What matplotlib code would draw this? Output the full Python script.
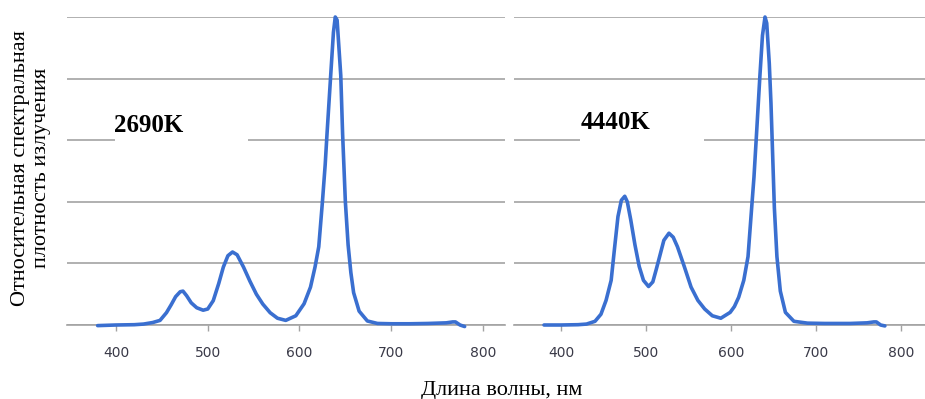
import matplotlib.pyplot as plt
from matplotlib.patches import Rectangle

# спектр 2690K (длина волны, нм / относительная плотность)
wl_2690 = [380, 400, 420, 430, 440, 448, 455, 460, 465, 470, 473, 477, 482, 488,
           495, 500, 506, 512, 517, 522, 527, 532, 539, 546, 553, 560, 568, 576,
           585, 596, 605, 612, 617, 621, 625, 628, 630, 634, 637, 639,
           641, 645, 647, 650, 653, 656, 659, 665, 674, 685, 700, 720, 740,
           760, 767, 770, 775, 780]
val_2690 = [-0.002, 0.0, 0.001, 0.003, 0.008, 0.015, 0.04, 0.065, 0.092, 0.108, 0.11,
            0.095, 0.072, 0.056, 0.048, 0.052, 0.079, 0.135, 0.188, 0.225, 0.237,
            0.228, 0.188, 0.142, 0.10, 0.068, 0.040, 0.022,
            0.015, 0.03, 0.069, 0.123, 0.189, 0.254, 0.40, 0.52, 0.62, 0.81, 0.95, 1.0,
            0.99, 0.81, 0.62, 0.40, 0.26, 0.17, 0.105, 0.045, 0.013, 0.005, 0.004,
            0.004, 0.005, 0.007, 0.01, 0.01, 0.0, -0.005]

# спектр 4440K
wl_4440 = [380, 400, 420, 430, 440, 447, 453, 459, 463, 467, 471, 475, 478, 482,
           487, 492, 497, 503, 508, 512, 516, 521, 527, 532, 537, 545, 553, 561,
           569, 578, 588, 599, 604, 609, 615, 620, 624, 627, 630, 634, 637,
           640, 642, 645, 647, 649, 651, 654, 658, 664, 674, 690, 710, 740,
           760, 768, 771, 776, 781]
val_4440 = [0.0, 0.0, 0.001, 0.003, 0.012, 0.035, 0.08, 0.145, 0.25, 0.352, 0.405,
            0.418, 0.40, 0.342, 0.26, 0.19, 0.145, 0.125, 0.14, 0.18, 0.222, 0.275,
            0.298, 0.285, 0.254, 0.19, 0.123, 0.08, 0.052, 0.03, 0.022, 0.041, 0.06,
            0.09, 0.145, 0.222, 0.37, 0.48, 0.62, 0.81, 0.94, 1.0, 0.98, 0.85,
            0.72, 0.55, 0.38, 0.222, 0.11, 0.041, 0.012, 0.006, 0.005, 0.005,
            0.007, 0.01, 0.01, 0.0, -0.003]

x_ticks = [400, 500, 600, 700, 800]
y_grid = [0, 0.2, 0.4, 0.6, 0.8, 1.0]

serif = ['Liberation Serif', 'DejaVu Serif']
blue = '#3a6fd0'
grid_c = '#a3a3a3'

fig = plt.figure(figsize=(9.25, 3.99), dpi=100)
ax1 = fig.add_axes([67/925, 74/399, 438/925, 308/399])
ax2 = fig.add_axes([514/925, 74/399, 411/925, 308/399])


def style(ax, xlim):
    ax.set_xlim(*xlim)
    ax.set_ylim(0, 1.0)
    ax.set_yticks(y_grid)
    ax.set_xticks(x_ticks)
    ax.grid(axis='y', color=grid_c, lw=1.2)
    ax.set_axisbelow(True)
    for s in ['top', 'right', 'left']:
        ax.spines[s].set_visible(False)
    ax.spines['bottom'].set_color(grid_c)
    ax.spines['bottom'].set_linewidth(1.2)
    ax.tick_params(axis='y', left=False, labelleft=False)
    ax.tick_params(axis='x', direction='out', length=4.5, width=1, color=grid_c,
                   pad=10.5, labelsize=10, labelcolor='#3a3a48')


style(ax1, (346.6, 824.0))
style(ax2, (344.7, 828.2))

ax1.plot(wl_2690, val_2690, color=blue, lw=2.6, clip_on=False, zorder=3,
         solid_joinstyle='round', solid_capstyle='round')
ax2.plot(wl_4440, val_4440, color=blue, lw=2.6, clip_on=False, zorder=3,
         solid_joinstyle='round', solid_capstyle='round')

# подписи цветовой температуры на белой подложке
ax1.add_patch(Rectangle((0.11, 0.565), 0.303, 0.15, transform=ax1.transAxes,
                        facecolor='white', edgecolor='none', zorder=2))
ax1.text(0.108, 0.649, '2690K', transform=ax1.transAxes, ha='left', va='center',
         fontsize=18, fontweight='bold', family=serif, zorder=4)
ax2.add_patch(Rectangle((0.161, 0.565), 0.301, 0.15, transform=ax2.transAxes,
                        facecolor='white', edgecolor='none', zorder=2))
ax2.text(0.161, 0.656, '4440K', transform=ax2.transAxes, ha='left', va='center',
         fontsize=18, fontweight='bold', family=serif, zorder=4)

fig.text(31/925, 1 - 168/399, 'Относительная спектральная\nплотность излучения',
         rotation=90, ha='center', va='center', multialignment='center',
         fontsize=16, family=serif, linespacing=1.2)
fig.text(502/925, 1 - 390/399, 'Длина волны, нм', ha='center', va='center',
         fontsize=16, family=serif)

fig.savefig('out.png', dpi=100)
